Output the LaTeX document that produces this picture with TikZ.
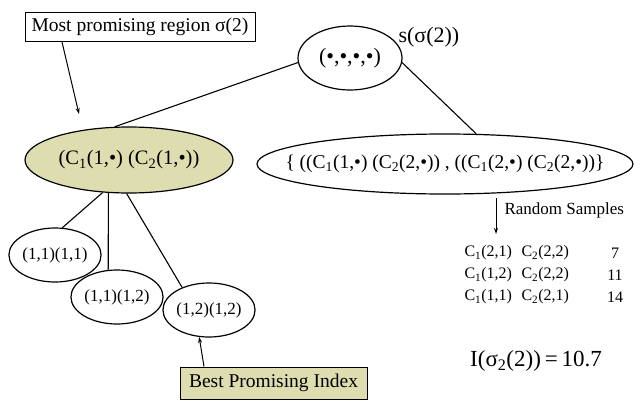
\documentclass[tikz,border=0pt]{standalone}
\usepackage{fontspec}
\setmainfont{Liberation Serif}
\usetikzlibrary{shapes.geometric,arrows.meta}
\definecolor{olivefill}{RGB}{221,221,176}
\newcommand{\Cx}[1]{C\textsubscript{#1}}
\begin{document}
\begin{tikzpicture}[x=1pt,y=-1pt,
  ell/.style={ellipse,draw,line width=1.2pt,inner sep=0pt},
  lbl/.style={draw,line width=1pt,inner sep=0pt},
  ln/.style={line width=1.1pt},
  arr/.style={line width=1pt,-{Stealth[length=6pt,width=4pt]}},
  big/.style={font=\fontsize{22}{24}\selectfont},
  gtext/.style={font=\fontsize{20.5}{23}\selectfont},
  mid/.style={font=\fontsize{19.5}{22}\selectfont},
  small/.style={font=\fontsize{17}{19}\selectfont},
  tbl/.style={font=\fontsize{16}{18}\selectfont}]
\useasboundingbox (0,0) rectangle (640,402);

% labels boxes
\node[lbl,mid,minimum width=230,minimum height=29] (mpr) at (140,27) {Most promising region σ(2)};
\node[lbl,mid,fill=olivefill,minimum width=187,minimum height=32] (best) at (273.5,383) {Best Promising Index};

% tree nodes
\node[ell,big,minimum width=104,minimum height=64] (root) at (350,58) {(\textbullet,\textbullet,\textbullet,\textbullet)};
\node[big,anchor=west] (slab) at (395,37) {s(σ(2))};
\node[ell,gtext,fill=olivefill,minimum width=208,minimum height=66] (green) at (129,160) {(\Cx{1}(1,\textbullet) (\Cx{2}(1,\textbullet))};
\node[ell,minimum width=376,minimum height=60] (bigE) at (445,164) {};
\node[mid] (bigT) at (bigE.center) {\{ ((\Cx{1}(1,\textbullet) (\Cx{2}(2,\textbullet)) , ((\Cx{1}(2,\textbullet) (\Cx{2}(2,\textbullet))\}};
\node[ell,small,minimum width=84,minimum height=54] (c1) at (55,255) {(1,1)(1,1)};
\node[ell,small,minimum width=78,minimum height=54] (c2) at (117,297) {(1,1)(1,2)};
\node[ell,small,minimum width=84,minimum height=54] (c3) at (209,310) {(1,2)(1,2)};

% connectors
\draw[ln] (root.185) -- (green.113);
\draw[ln] (root.-5) -- (bigE.44);
\draw[ln] (green.231) -- (c1.75);
\draw[ln] (green.238) -- (c2.108);
\draw[ln] (green.266) -- (c3.140);

\coordinate (a1) at (79,114);
\draw[arr] ([xshift=-78pt]mpr.south) -- (a1);
\draw[arr] ([xshift=-69.5pt]best.north) -- (c3.250);

% random samples
\coordinate (rsA) at (496,198);
\coordinate (rsB) at (496,234);
\draw[arr] (rsA) -- (rsB);
\node[small,anchor=west] (rs) at (501,210) {Random Samples};

\node[tbl,anchor=west] (r1a) at (461,253) {\Cx{1}(2,1)};
\node[tbl,anchor=west] (r1b) at (518,253) {\Cx{2}(2,2)};
\node[tbl] (r1c) at (615,253) {7};
\node[tbl,anchor=west] (r2a) at (461,275) {\Cx{1}(1,2)};
\node[tbl,anchor=west] (r2b) at (518,275) {\Cx{2}(2,2)};
\node[tbl] (r2c) at (615,275) {11};
\node[tbl,anchor=west] (r3a) at (461,297) {\Cx{1}(1,1)};
\node[tbl,anchor=west] (r3b) at (518,297) {\Cx{2}(2,1)};
\node[tbl] (r3c) at (615,297) {14};

\node[font=\fontsize{23}{25}\selectfont] (idx) at (536,361) {I(σ\textsubscript{2}(2))\,=\,10.7};
\end{tikzpicture}
\end{document}
